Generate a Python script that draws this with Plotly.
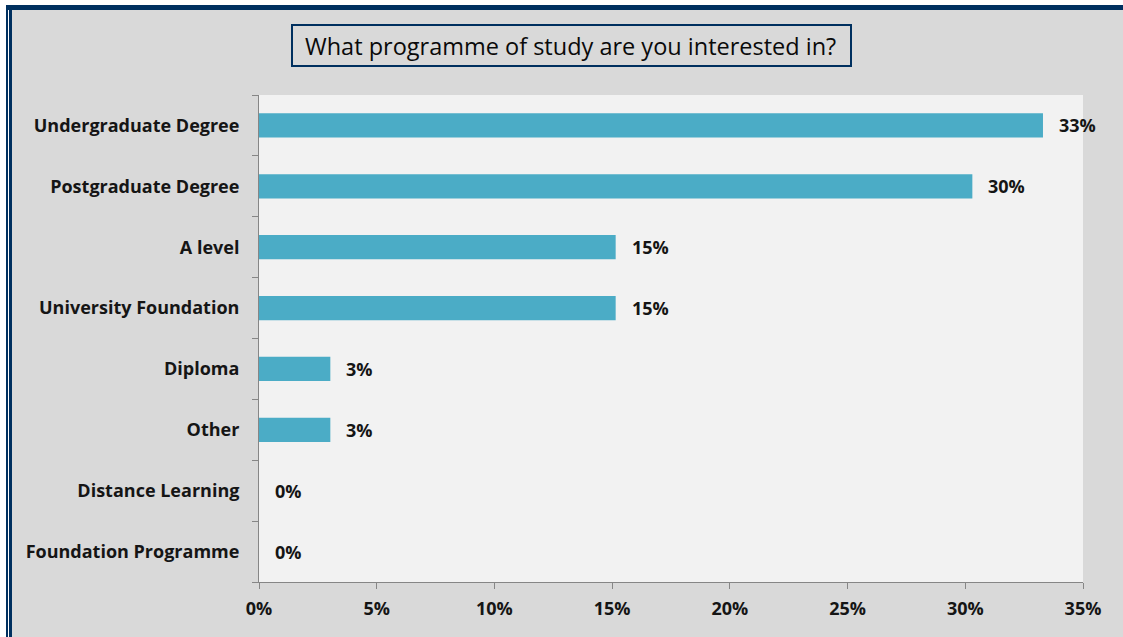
import plotly.graph_objects as go

# Survey responses: share of respondents per programme (%)
programmes = [
    "Undergraduate Degree",
    "Postgraduate Degree",
    "A level",
    "University Foundation",
    "Diploma",
    "Other",
    "Distance Learning",
    "Foundation Programme",
]
shares = [33.3, 30.3, 15.15, 15.15, 3.03, 3.03, 0.0, 0.0]
x_ticks = [0, 5, 10, 15, 20, 25, 30, 35]
x_tick_labels = [f"{t}%" for t in x_ticks]

title_text = "What programme of study are you interested in?"

W, H = 1123, 637
ML, MR, MT, MB = 259, 40, 95, 55
PW, PH = W - ML - MR, H - MT - MB

FONT = "Open Sans"
TEXT = "#151515"
GRID = "#868686"
NAVY = "#00305f"
LABEL_SIZE = 18


def px(x):
    return (x - ML) / PW


def py(y):
    return (H - MB - y) / PH


fig = go.Figure(
    go.Bar(
        x=shares,
        y=programmes,
        orientation="h",
        width=0.4,
        marker=dict(color="#4bacc6", line=dict(width=0)),
        hoverinfo="skip",
    )
)

# value labels next to each bar
for v, p in zip(shares, programmes):
    fig.add_annotation(
        x=v, y=p, xref="x", yref="y",
        text=f"<b>{v:.0f}%</b>",
        showarrow=False, xanchor="left", yanchor="middle", xshift=14,
        font=dict(family=FONT, size=LABEL_SIZE, color=TEXT),
    )

# title inside a framed box
fig.add_shape(
    type="rect", xref="paper", yref="paper",
    x0=px(292), x1=px(851), y0=py(25), y1=py(66),
    line=dict(color=NAVY, width=2), fillcolor="rgba(0,0,0,0)",
)
fig.add_annotation(
    x=px(570), y=py(45.5), xref="paper", yref="paper",
    text=title_text, showarrow=False, xanchor="center", yanchor="middle",
    font=dict(family=FONT, size=23.5, color="#0a0a0a"),
)

# page frame: white margin strips and navy double rule
frame = [
    (0, 6, -2, H + 2, "white"),
    (-2, W + 2, 0, 5, "white"),
    (6, 8, 7, H + 2, NAVY),
    (8, 9, 9, H + 2, "white"),
    (9, 12, 9, H + 2, NAVY),
    (6, W + 2, 5, 10, NAVY),
]
for x0, x1, y0, y1, c in frame:
    fig.add_shape(
        type="rect", xref="paper", yref="paper",
        x0=px(x0), x1=px(x1), y0=py(y0), y1=py(y1),
        line=dict(width=0), fillcolor=c,
    )

fig.update_layout(
    width=W, height=H,
    margin=dict(l=ML, r=MR, t=MT, b=MB, pad=0),
    paper_bgcolor="#d9d9d9",
    plot_bgcolor="#f2f2f2",
    showlegend=False,
    font=dict(family=FONT, color=TEXT),
)
fig.update_xaxes(
    range=[0, 35],
    tickvals=x_ticks, ticktext=[f"<b>{t}</b>" for t in x_tick_labels],
    ticks="outside", ticklen=6, tickcolor=GRID, tickwidth=1,
    showline=True, linecolor=GRID, linewidth=1,
    showgrid=False, zeroline=False,
    ticklabelstandoff=4,
    tickfont=dict(family=FONT, size=LABEL_SIZE, color=TEXT),
)
fig.update_yaxes(
    categoryorder="array", categoryarray=programmes,
    autorange="reversed",
    tickvals=programmes, ticktext=[f"<b>{p}</b>" for p in programmes],
    ticks="outside", tickson="boundaries", ticklen=6, tickcolor=GRID, tickwidth=1,
    showline=True, linecolor=GRID, linewidth=1,
    showgrid=False, zeroline=False,
    ticklabelstandoff=15,
    tickfont=dict(family=FONT, size=LABEL_SIZE, color=TEXT),
)

fig.write_html("out.html")
